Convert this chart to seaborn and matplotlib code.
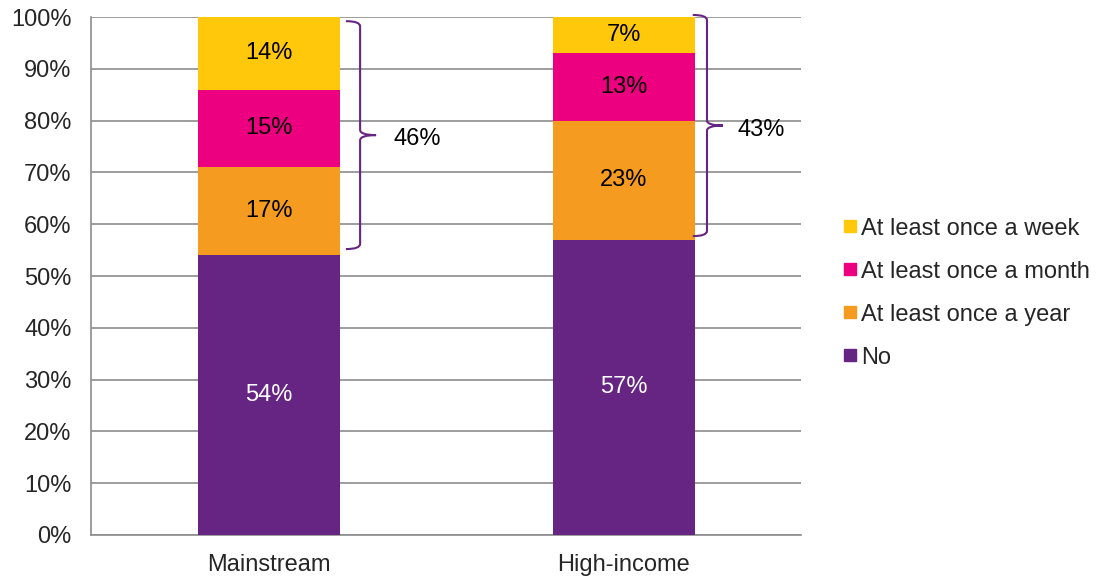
import numpy as np
import pandas as pd
import matplotlib
matplotlib.use("Agg")
import matplotlib.pyplot as plt
from matplotlib.path import Path
from matplotlib.patches import PathPatch
from matplotlib.lines import Line2D
import seaborn as sns

# Données
groups = ["Mainstream", "High-income"]
series = ["No", "At least once a year", "At least once a month", "At least once a week"]
no_vals = [54, 57]
year_vals = [17, 23]
month_vals = [15, 13]
week_vals = [14, 7]
brace_labels = ["46%", "43%"]

colors = {
    "No": "#662483",
    "At least once a year": "#F59B1F",
    "At least once a month": "#EC0080",
    "At least once a week": "#FFC80B",
}

values = {
    "No": no_vals,
    "At least once a year": year_vals,
    "At least once a month": month_vals,
    "At least once a week": week_vals,
}

FS = 17

sns.set_style("white")
plt.rcParams["font.family"] = ["Liberation Sans", "DejaVu Sans"]

fig = plt.figure(figsize=(10.99, 5.77), dpi=100)
ax = fig.add_axes([0.0828, 0.0728, 0.7289 - 0.0828, 0.9705 - 0.0728])

# Cumul pour empilement
cum = np.zeros(len(groups))
bottoms = {}
for s in series:
    bottoms[s] = cum.copy()
    cum = cum + np.array(values[s])

# Dessiner du haut vers le bas pour empiler
for s in reversed(series):
    df = pd.DataFrame({"group": groups, "top": bottoms[s] + np.array(values[s])})
    sns.barplot(data=df, x="group", y="top", color=colors[s], width=0.4,
                saturation=1, ax=ax, zorder=3, linewidth=0)

# Etiquettes des segments
for s in series:
    for i, v in enumerate(values[s]):
        yc = bottoms[s][i] + v / 2
        ax.text(i, yc, f"{v}%", ha="center", va="center", fontsize=FS,
                color="white" if s == "No" else "black", zorder=4)


def brace(ax, x, y0, y1, hook=0.04, tip=0.045, dy=1.0):
    ym = (y0 + y1) / 2
    verts = [
        (x - hook, y1), (x, y1), (x, y1 - dy),
        (x, ym + dy),
        (x, ym), (x + tip, ym),
        (x, ym), (x, ym - dy),
        (x, y0 + dy),
        (x, y0), (x - hook, y0),
    ]
    codes = [Path.MOVETO, Path.CURVE3, Path.CURVE3,
             Path.LINETO,
             Path.CURVE3, Path.CURVE3,
             Path.CURVE3, Path.CURVE3,
             Path.LINETO,
             Path.CURVE3, Path.CURVE3]
    ax.add_patch(PathPatch(Path(verts, codes), fill=False, edgecolor="#662483",
                           lw=1.5, zorder=4, clip_on=False))
    return ym


brace_x = [0.258, 1.235]
brace_lo = [55.2, 57.7]
brace_hi = [99.2, 100.4]
label_x = [0.42, 1.387]
for i in range(len(groups)):
    ym = brace(ax, brace_x[i], brace_lo[i], brace_hi[i])
    ax.text(label_x[i], ym - 0.8, brace_labels[i], ha="center", va="center",
            fontsize=FS, color="black", zorder=4)

# Axes
ax.set_xlim(-0.5, 1.5)
ax.set_ylim(0, 100)
ax.set_yticks(np.arange(0, 101, 10))
ax.set_yticklabels([f"{t}%" for t in range(0, 101, 10)])
ax.set_xlabel("")
ax.set_ylabel("")
ax.grid(axis="y", color="#8C8C8C", lw=1.2, zorder=0)
ax.set_axisbelow(True)
for sp in ["top", "right"]:
    ax.spines[sp].set_visible(False)
for sp in ["left", "bottom"]:
    ax.spines[sp].set_color("#8C8C8C")
    ax.spines[sp].set_linewidth(1.2)
ax.set_xticks([-0.5, 0.5, 1.5], minor=False)
ax.set_xticklabels([])
ax.set_xticks([0, 1], minor=True)
ax.set_xticklabels(groups, minor=True)
ax.tick_params(axis="x", which="major", length=6, color="#8C8C8C", direction="out")
ax.tick_params(axis="x", which="minor", length=0, labelsize=FS, pad=14)
ax.tick_params(axis="y", length=5, color="#8C8C8C", direction="out",
               labelsize=FS, pad=9)

# Légende
handles = [Line2D([0], [0], marker="s", color="none", markerfacecolor=colors[s],
                  markeredgecolor=colors[s], markersize=8.5) for s in reversed(series)]
fig.legend(handles, list(reversed(series)), loc="upper left",
           bbox_to_anchor=(0.767, 0.623), frameon=False, fontsize=FS,
           handlelength=0.6, handletextpad=0.15, labelspacing=0.89,
           borderaxespad=0, borderpad=0)

fig.savefig("out.png", dpi=100)
